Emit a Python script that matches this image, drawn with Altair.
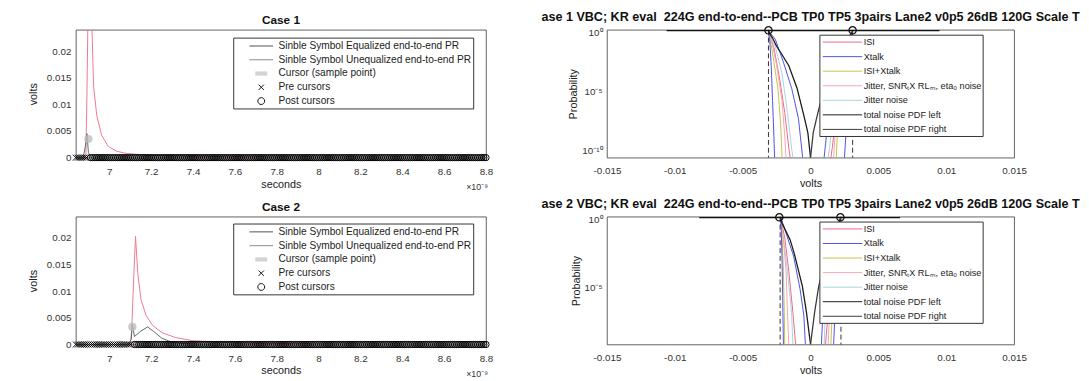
import altair as alt
import pandas as pd

FONT = "Liberation Sans"

# ---------------- left panels: pulse responses (time in units of 1e-9 s) ----------------
x_ticks_left = [7, 7.2, 7.4, 7.6, 7.8, 8, 8.2, 8.4, 8.6, 8.8]
y_ticks_left = [0, 0.005, 0.01, 0.015, 0.02]

sample_t = [6.84, 6.85, 6.86, 6.87, 6.88, 6.89, 6.90, 6.91, 6.92, 6.93, 6.94, 6.95, 6.96, 6.97, 6.98, 6.99,
            7.00, 7.01, 7.02, 7.03, 7.04, 7.05, 7.06, 7.07, 7.08, 7.09, 7.10, 7.11, 7.12, 7.13, 7.14, 7.15,
            7.16, 7.17, 7.18, 7.19, 7.20, 7.21, 7.22, 7.23, 7.24, 7.25, 7.26, 7.27, 7.28, 7.29, 7.30, 7.31,
            7.32, 7.33, 7.34, 7.35, 7.36, 7.37, 7.38, 7.39, 7.40, 7.41, 7.42, 7.43, 7.44, 7.45, 7.46, 7.47,
            7.48, 7.49, 7.50, 7.51, 7.52, 7.53, 7.54, 7.55, 7.56, 7.57, 7.58, 7.59, 7.60, 7.61, 7.62, 7.63,
            7.64, 7.65, 7.66, 7.67, 7.68, 7.69, 7.70, 7.71, 7.72, 7.73, 7.74, 7.75, 7.76, 7.77, 7.78, 7.79,
            7.80, 7.81, 7.82, 7.83, 7.84, 7.85, 7.86, 7.87, 7.88, 7.89, 7.90, 7.91, 7.92, 7.93, 7.94, 7.95,
            7.96, 7.97, 7.98, 7.99, 8.00, 8.01, 8.02, 8.03, 8.04, 8.05, 8.06, 8.07, 8.08, 8.09, 8.10, 8.11,
            8.12, 8.13, 8.14, 8.15, 8.16, 8.17, 8.18, 8.19, 8.20, 8.21, 8.22, 8.23, 8.24, 8.25, 8.26, 8.27,
            8.28, 8.29, 8.30, 8.31, 8.32, 8.33, 8.34, 8.35, 8.36, 8.37, 8.38, 8.39, 8.40, 8.41, 8.42, 8.43,
            8.44, 8.45, 8.46, 8.47, 8.48, 8.49, 8.50, 8.51, 8.52, 8.53, 8.54, 8.55, 8.56, 8.57, 8.58, 8.59,
            8.60, 8.61, 8.62, 8.63, 8.64, 8.65, 8.66, 8.67, 8.68, 8.69, 8.70, 8.71, 8.72, 8.73, 8.74, 8.75,
            8.76, 8.77, 8.78, 8.79, 8.80]

c1_unequalized_t = [6.84, 6.880, 6.888, 6.893, 6.897, 6.905, 6.912, 6.917, 6.925, 6.940,
                    6.963, 6.995, 7.034, 7.080, 7.200, 7.500, 8.000, 8.800]
c1_unequalized_v = [0.0, 0.0, 0.0005, 0.012, 0.024, 0.031, 0.028, 0.024, 0.0133, 0.0079,
                    0.0042, 0.0021, 0.0012, 0.0008, 0.0004, 0.0002, 0.0001, 0.0]
c1_equalized_t = [6.84, 6.875, 6.885, 6.893, 6.900, 6.910, 6.950, 8.800]
c1_equalized_v = [0.0, 0.0, 0.002, 0.0045, 0.001, 0.0, 0.0, 0.0]
c1_cursor_t = 6.90
c1_cursor_v = 0.0035

c2_unequalized_t = [6.84, 7.100, 7.105, 7.108, 7.117, 7.125, 7.136, 7.151, 7.175, 7.206,
                    7.253, 7.316, 7.400, 7.600, 8.000, 8.800]
c2_unequalized_v = [0.0, 0.0, 0.002, 0.004, 0.013, 0.0203, 0.0133, 0.0085, 0.0055, 0.0036,
                    0.0022, 0.0013, 0.0007, 0.0003, 0.0001, 0.0]
c2_equalized_t = [6.84, 7.090, 7.105, 7.110, 7.120, 7.150, 7.183, 7.210, 7.250, 7.300, 7.400, 8.800]
c2_equalized_v = [0.0, 0.0, 0.001, 0.0038, 0.0015, 0.0025, 0.0033, 0.0025, 0.0012, 0.0004, 0.0, 0.0]
c2_cursor_t = 7.11
c2_cursor_v = 0.0033

left_names = ["Sinble Symbol Equalized end-to-end PR", "Sinble Symbol Unequalized end-to-end PR",
              "Cursor (sample point)", "Pre cursors", "Post cursors"]
left_colors = ["#505050", "#8c8c8c", "#c4c4c4", "#111111", "#111111"]
left_shapes = ["M-2,0L2,0", "M-2,0L2,0",
               "M-1,-0.25L1,-0.25M-1,-0.08L1,-0.08M-1,0.08L1,0.08M-1,0.25L1,0.25",
               "M-0.45,-0.45L0.45,0.45M-0.45,0.45L0.45,-0.45",
               "M-0.58,0A0.58,0.58,0,1,1,0.58,0A0.58,0.58,0,1,1,-0.58,0Z"]

# ---------------- right panels: noise PDFs ----------------
right_names = ["ISI", "Xtalk", "ISI+Xtalk", "Jitter, SNR\u209CX RL\u2098, eta\u2080 noise",
               "Jitter noise", "total noise PDF left", "total noise PDF right"]
right_colors = ["#ee6680", "#5050e6", "#c4c448", "#f2a6b8", "#a6d3dc", "#1a1a1a", "#3a3a3a"]
x_ticks_right = [-0.015, -0.01, -0.005, 0, 0.005, 0.01, 0.015]

# case 1
r1_total_left_v = [-0.0031, -0.0030, -0.0028, -0.0025, -0.0022, -0.0016, -0.0010, -0.0005, -0.0002, 0.0]
r1_total_left_p = [0.85, 0.45, 0.2, 0.04, 0.012, 9e-4, 1.2e-5, 6e-8, 2e-9, 1.5e-11]
r1_total_right_v = [0.0, 0.0002, 0.0005, 0.0010, 0.0016, 0.0022, 0.0025, 0.0028, 0.0030, 0.0031]
r1_total_right_p = [1.5e-11, 2e-9, 6e-8, 1.2e-5, 9e-4, 0.012, 0.04, 0.2, 0.45, 0.85]
r1_xtalk_a_left_v = [-0.0031, -0.0030, -0.0029, -0.0028, -0.0027, -0.00265]
r1_xtalk_a_left_p = [0.6, 0.1, 1e-3, 1e-6, 1e-9, 1.5e-11]
r1_xtalk_a_right_v = [0.0025, 0.0026, 0.00275, 0.0029, 0.0030, 0.0031]
r1_xtalk_a_right_p = [1.5e-11, 1e-9, 1e-6, 1e-3, 0.1, 0.6]
r1_xtalk_b_left_v = [-0.0031, -0.0026, -0.0020, -0.00138, -0.00089, -0.00058]
r1_xtalk_b_left_p = [0.8, 0.16, 1.8e-3, 1e-5, 3e-8, 1.5e-11]
r1_xtalk_b_right_v = [0.0010, 0.0013, 0.0017, 0.0022, 0.0027, 0.0031]
r1_xtalk_b_right_p = [1.5e-11, 3e-8, 1e-5, 1.8e-3, 0.16, 0.8]
r1_isixt_left_v = [-0.0031, -0.0029, -0.0027, -0.0024, -0.0022, -0.0021]
r1_isixt_left_p = [0.6, 0.05, 2e-3, 1e-5, 1e-8, 1.5e-11]
r1_isixt_right_v = [0.0019, 0.0020, 0.0022, 0.0025, 0.0028, 0.0031]
r1_isixt_right_p = [1.5e-11, 1e-8, 1e-5, 2e-3, 0.05, 0.6]
r1_jitter_left_v = [-0.0031, -0.0028, -0.0025, -0.0021, -0.0019, -0.0018]
r1_jitter_left_p = [0.6, 0.05, 1e-3, 1e-6, 1e-9, 1.5e-11]
r1_jitter_right_v = [0.0017, 0.0018, 0.0020, 0.0024, 0.0027, 0.0031]
r1_jitter_right_p = [1.5e-11, 1e-9, 1e-6, 1e-3, 0.05, 0.6]
r1_isi_left_v = [-0.0031, -0.0027, -0.0023, -0.0019, -0.0016, -0.0015]
r1_isi_left_p = [0.6, 0.03, 1e-4, 1e-7, 1e-10, 1.5e-11]
r1_isi_right_v = [0.0015, 0.0016, 0.0019, 0.0023, 0.0027, 0.0031]
r1_isi_right_p = [1.5e-11, 1e-10, 1e-7, 1e-4, 0.03, 0.6]
r1_jn_left_v = [-0.0031, -0.0026, -0.0021, -0.0017, -0.0014, -0.0013]
r1_jn_left_p = [0.6, 0.04, 2e-4, 1e-7, 1e-10, 1.5e-11]
r1_jn_right_v = [0.0013, 0.0014, 0.0017, 0.0021, 0.0026, 0.0031]
r1_jn_right_p = [1.5e-11, 1e-10, 1e-7, 2e-4, 0.04, 0.6]
r1_top_v = [-0.0106, 0.0095]
r1_top_p = [0.85, 0.85]
r1_marker_v = [-0.0031, 0.0031]
r1_marker_p = [0.9, 0.9]
r1_dash_v = [-0.0031, 0.0031]

# case 2
r2_total_left_v = [-0.0022, -0.0021, -0.0018, -0.0015, -0.0012, -0.0009, -0.0006, -0.0003, 0.0]
r2_total_left_p = [0.85, 0.33, 0.08, 0.02, 2e-3, 1.3e-4, 8e-6, 1e-7, 4.5e-10]
r2_total_right_v = [0.0, 0.0003, 0.0006, 0.0009, 0.0012, 0.0015, 0.0018, 0.0021, 0.0022]
r2_total_right_p = [4.5e-10, 1e-7, 8e-6, 1.3e-4, 2e-3, 0.02, 0.08, 0.33, 0.85]
r2_xtalk_a_left_v = [-0.0022, -0.00215, -0.0021, -0.00205, -0.0020]
r2_xtalk_a_left_p = [0.7, 0.05, 1e-3, 1e-6, 4.5e-10]
r2_xtalk_a_right_v = [0.0017, 0.00185, 0.0020, 0.0021, 0.0022]
r2_xtalk_a_right_p = [4.5e-10, 1e-6, 1e-3, 0.05, 0.7]
r2_xtalk_b_left_v = [-0.0022, -0.0020, -0.00125, -0.00077, -0.00049, -0.00038]
r2_xtalk_b_left_p = [0.8, 0.25, 1.3e-3, 5e-6, 5.6e-8, 4.5e-10]
r2_xtalk_b_right_v = [0.0008, 0.0009, 0.0012, 0.0016, 0.0020, 0.0022]
r2_xtalk_b_right_p = [4.5e-10, 5.6e-8, 5e-6, 1.3e-3, 0.25, 0.8]
r2_isixt_left_v = [-0.0022, -0.0021, -0.0020, -0.00193, -0.0019]
r2_isixt_left_p = [0.7, 0.05, 1e-4, 1e-7, 4.5e-10]
r2_isixt_right_v = [0.0015, 0.0016, 0.0018, 0.0020, 0.0022]
r2_isixt_right_p = [4.5e-10, 1e-7, 1e-4, 0.05, 0.7]
r2_jitter_left_v = [-0.0022, -0.0020, -0.0018, -0.0017, -0.0016]
r2_jitter_left_p = [0.7, 0.02, 1e-4, 1e-7, 4.5e-10]
r2_jitter_right_v = [0.0013, 0.0014, 0.0016, 0.0019, 0.0022]
r2_jitter_right_p = [4.5e-10, 1e-7, 1e-4, 0.02, 0.7]
r2_isi_left_v = [-0.0022, -0.0019, -0.0016, -0.0013, -0.0011]
r2_isi_left_p = [0.7, 0.03, 1e-4, 1e-7, 4.5e-10]
r2_isi_right_v = [0.0011, 0.0013, 0.0016, 0.0019, 0.0022]
r2_isi_right_p = [4.5e-10, 1e-7, 1e-4, 0.03, 0.7]
r2_jn_left_v = [-0.0022, -0.0020, -0.0017, -0.0014, -0.0013]
r2_jn_left_p = [0.7, 0.03, 1e-4, 1e-7, 4.5e-10]
r2_jn_right_v = [0.0010, 0.0011, 0.0014, 0.0017, 0.0022]
r2_jn_right_p = [4.5e-10, 1e-7, 1e-4, 0.03, 0.7]
r2_top_v = [-0.0082, 0.0066]
r2_top_p = [0.85, 0.85]
r2_marker_v = [-0.0023, 0.0022]
r2_marker_p = [0.9, 0.9]
r2_dash_v = [-0.00224, 0.00224]

PLOT_W_L, PLOT_W_R, PLOT_H = 417, 414, 130


def left_panel(title, unq_t, unq_v, eq_t, eq_v, cur_t, cur_v, legend_y):
    unq = pd.DataFrame({"t": unq_t, "v": unq_v})
    eq = pd.DataFrame({"t": eq_t, "v": eq_v})
    pre = pd.DataFrame({"t": [t for t in sample_t if t < cur_t - 0.005]})
    pre["v"] = 0.0
    post = pd.DataFrame({"t": [t for t in sample_t if t > cur_t + 0.005]})
    post["v"] = 0.0
    cur = pd.DataFrame({"t": [cur_t], "v": [cur_v]})
    expo = pd.DataFrame({"t": [8.8], "v": [0.0]})

    x = alt.X("t:Q", scale=alt.Scale(domain=[6.84, 8.8], nice=False, zero=False),
              axis=alt.Axis(values=x_ticks_left, format="~g", title="seconds",
                            labelPadding=9, titlePadding=2, labelOverlap=False, labelFlush=False))
    y = alt.Y("v:Q", scale=alt.Scale(domain=[0, 0.024], nice=False),
              axis=alt.Axis(values=y_ticks_left, format="~g", title="volts", titlePadding=8,
                            labelOverlap=False, labelFlush=False))

    leg = alt.Legend(orient="none", legendX=160, legendY=legend_y, title=None,
                     symbolSize=144, symbolStrokeWidth=1, padding=2, rowPadding=2,
                     symbolOffset=20, labelOffset=11, labelFontSize=10.3, labelColor="#222",
                     strokeColor="#333", fillColor="white", labelLimit=400)

    eq_line = alt.Chart(eq).mark_line(color="#586e6e", strokeWidth=1, clip=True).encode(x=x, y=y)
    unq_line = alt.Chart(unq).mark_line(color="#f07890", strokeWidth=1, clip=True).encode(x=x, y=y)
    cur_pt = alt.Chart(cur).mark_point(shape="circle", filled=True, size=70, color="#bdbdbd",
                                       opacity=0.8).encode(x=x, y=y)
    pre_pts = alt.Chart(pre).mark_point(shape="M-1,-1L1,1M-1,1L1,-1", filled=False, size=36,
                                        color="#000000", strokeWidth=1, opacity=1).encode(x=x, y=y)
    post_pts = alt.Chart(post).mark_point(shape="circle", filled=False, size=40,
                                          color="#000000", strokeWidth=1, opacity=1).encode(x=x, y=y)
    expo_txt = alt.Chart(expo).mark_text(text="\u00d710\u207b\u2079", align="right", dy=30, dx=2,
                                         fontSize=9, color="#333").encode(x=x, y=y)
    dummy = alt.Chart(pd.DataFrame({"series": left_names})).transform_filter("false").mark_point(
        filled=False, opacity=1, size=144, strokeWidth=1).encode(
        color=alt.Color("series:N", scale=alt.Scale(domain=left_names, range=left_colors), legend=leg),
        shape=alt.Shape("series:N", scale=alt.Scale(domain=left_names, range=left_shapes), legend=leg))

    return alt.layer(unq_line, eq_line, cur_pt, pre_pts, post_pts, expo_txt, dummy).properties(
        width=PLOT_W_L, height=PLOT_H,
        title=alt.TitleParams(text=title, fontSize=12, offset=3))


def build_df(curves):
    rows = []
    for series, cid, vs, ps in curves:
        for v, p in zip(vs, ps):
            rows.append({"series": series, "cid": cid, "v": v, "p": p})
    return pd.DataFrame(rows)


def right_panel(title, curves, total_curves, top_v, top_p, mark_v, mark_p, dash_v, pmin, yticks, legend_y):
    cdf = build_df(curves)
    tdf = build_df(total_curves)
    top = pd.DataFrame({"v": top_v, "p": top_p})
    mk = pd.DataFrame({"v": mark_v, "p": mark_p})
    dash = pd.DataFrame({"v": dash_v})

    x = alt.X("v:Q", scale=alt.Scale(domain=[-0.015, 0.015], nice=False),
              axis=alt.Axis(values=x_ticks_right, title="volts", labelPadding=8, titlePadding=2,
                            labelOverlap=False, labelFlush=False,
                            labelExpr="replace(format(datum.value, '~g'), '\u2212', '-')"))
    y = alt.Y("p:Q", scale=alt.Scale(type="log", domain=[pmin, 1], nice=False),
              axis=alt.Axis(values=yticks, title="Probability", titlePadding=3, labelOffset=3,
                            labelOverlap=False, labelFlush=False,
                            labelExpr="datum.value >= 0.5 ? '10\u2070' : datum.value > 1e-7 ? '10\u207b\u2075' : '10\u207b\u00b9\u2070'"))
    leg = alt.Legend(orient="none", legendX=216, legendY=legend_y, title=None,
                     symbolType="M-3.33,0L3.33,0", symbolSize=144, symbolStrokeWidth=1,
                     padding=1, rowPadding=2.8, symbolOffset=16, labelOffset=15,
                     labelFontSize=9.3, labelColor="#222", strokeColor="#333", fillColor="white",
                     labelLimit=400)
    cscale = alt.Scale(domain=right_names, range=right_colors)

    colored = alt.Chart(cdf).mark_line(strokeWidth=1, clip=True).encode(
        x=x, y=y, color=alt.Color("series:N", scale=cscale, legend=leg), detail="cid:N")
    totals = alt.Chart(tdf).mark_line(strokeWidth=1.3, clip=True).encode(
        x=x, y=y, color=alt.Color("series:N", scale=cscale, legend=leg), detail="cid:N")
    dashed = alt.Chart(dash).mark_rule(strokeDash=[5, 3], color="#333", strokeWidth=1).encode(x=x)
    top_line = alt.Chart(top).mark_line(color="#111", strokeWidth=1.2).encode(x=x, y=y)
    markers = alt.Chart(mk).mark_point(shape="circle", filled=False, size=55, color="#111",
                                       strokeWidth=1.3, opacity=1).encode(x=x, y=y)
    return alt.layer(colored, dashed, totals, top_line, markers).properties(
        width=PLOT_W_R, height=PLOT_H,
        title=alt.TitleParams(text=title, fontSize=12.8, offset=0))


case1_curves = [
    ("ISI", "isiL", r1_isi_left_v, r1_isi_left_p), ("ISI", "isiR", r1_isi_right_v, r1_isi_right_p),
    ("Jitter noise", "jnL", r1_jn_left_v, r1_jn_left_p), ("Jitter noise", "jnR", r1_jn_right_v, r1_jn_right_p),
    (right_names[3], "jL", r1_jitter_left_v, r1_jitter_left_p), (right_names[3], "jR", r1_jitter_right_v, r1_jitter_right_p),
    ("ISI+Xtalk", "ixL", r1_isixt_left_v, r1_isixt_left_p), ("ISI+Xtalk", "ixR", r1_isixt_right_v, r1_isixt_right_p),
    ("Xtalk", "xbL", r1_xtalk_b_left_v, r1_xtalk_b_left_p), ("Xtalk", "xbR", r1_xtalk_b_right_v, r1_xtalk_b_right_p),
    ("Xtalk", "xaL", r1_xtalk_a_left_v, r1_xtalk_a_left_p), ("Xtalk", "xaR", r1_xtalk_a_right_v, r1_xtalk_a_right_p),
]
case1_totals = [
    ("total noise PDF left", "tL", r1_total_left_v, r1_total_left_p),
    ("total noise PDF right", "tR", r1_total_right_v, r1_total_right_p),
]
case2_curves = [
    ("ISI", "isiL", r2_isi_left_v, r2_isi_left_p), ("ISI", "isiR", r2_isi_right_v, r2_isi_right_p),
    ("Jitter noise", "jnL", r2_jn_left_v, r2_jn_left_p), ("Jitter noise", "jnR", r2_jn_right_v, r2_jn_right_p),
    (right_names[3], "jL", r2_jitter_left_v, r2_jitter_left_p), (right_names[3], "jR", r2_jitter_right_v, r2_jitter_right_p),
    ("ISI+Xtalk", "ixL", r2_isixt_left_v, r2_isixt_left_p), ("ISI+Xtalk", "ixR", r2_isixt_right_v, r2_isixt_right_p),
    ("Xtalk", "xbL", r2_xtalk_b_left_v, r2_xtalk_b_left_p), ("Xtalk", "xbR", r2_xtalk_b_right_v, r2_xtalk_b_right_p),
    ("Xtalk", "xaL", r2_xtalk_a_left_v, r2_xtalk_a_left_p), ("Xtalk", "xaR", r2_xtalk_a_right_v, r2_xtalk_a_right_p),
]
case2_totals = [
    ("total noise PDF left", "tL", r2_total_left_v, r2_total_left_p),
    ("total noise PDF right", "tR", r2_total_right_v, r2_total_right_p),
]

title_r1 = "ase 1 VBC; KR eval\u00a0 224G end-to-end--PCB TP0 TP5 3pairs Lane2 v0p5 26dB 120G Scale T"
title_r2 = "ase 2 VBC; KR eval\u00a0 224G end-to-end--PCB TP0 TP5 3pairs Lane2 v0p5 26dB 120G Scale T"

lp1 = left_panel("Case 1", c1_unequalized_t, c1_unequalized_v, c1_equalized_t, c1_equalized_v,
                 c1_cursor_t, c1_cursor_v, 8)
lp2 = left_panel("Case 2", c2_unequalized_t, c2_unequalized_v, c2_equalized_t, c2_equalized_v,
                 c2_cursor_t, c2_cursor_v, 7)
rp1 = right_panel(title_r1, case1_curves, case1_totals, r1_top_v, r1_top_p, r1_marker_v, r1_marker_p,
                  r1_dash_v, 1.5e-11, [1e-10, 1e-5, 1], 5)
rp2 = right_panel(title_r2, case2_curves, case2_totals, r2_top_v, r2_top_p, r2_marker_v, r2_marker_p,
                  r2_dash_v, 4.5e-10, [1e-5, 1], 5)

chart = alt.concat(lp1, rp1, lp2, rp2, columns=2, spacing={"row": 60, "column": 123},
                   bounds="flush").resolve_scale(color="independent", shape="independent").properties(
    padding={"left": 19, "top": 0, "right": 0, "bottom": 0}
).configure(font=FONT).configure_view(stroke="#3a3a3a", strokeWidth=0.8).configure_axis(
    domain=False, ticks=False, grid=False, labelFontSize=10, labelColor="#333", labelFont=FONT,
    titleFont=FONT, titleFontSize=11, titleFontWeight="normal", titleColor="#222", labelPadding=5
).configure_title(font=FONT, fontSize=12, fontWeight="bold", color="#111")

chart.save("out.html", embed_options={"renderer": "svg", "actions": False})
